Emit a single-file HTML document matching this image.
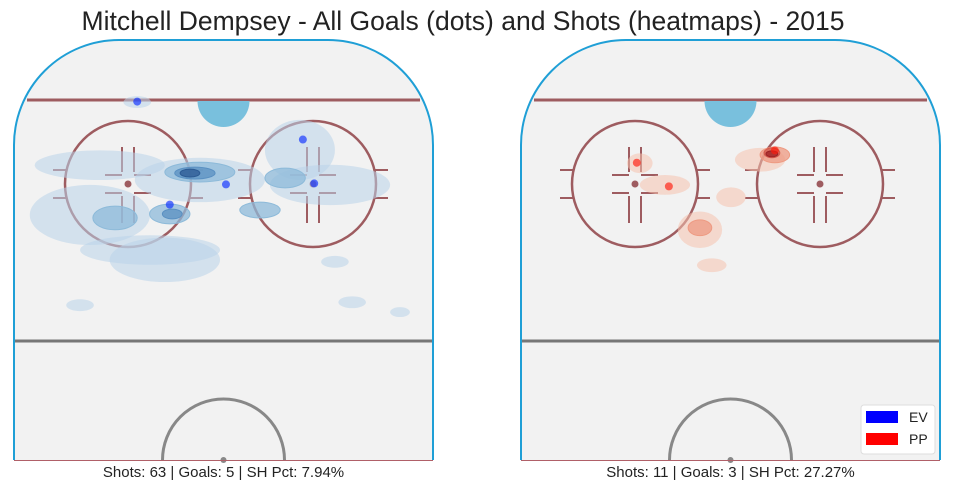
<!DOCTYPE html>
<html><head><meta charset="utf-8">
<style>
body{margin:0;background:#fff;}
svg{display:block;font-family:"Liberation Sans",Arial,sans-serif;}
</style></head>
<body>
<svg id="chart" width="953" height="493" viewBox="0 0 953 493">
<text x="463" y="30" text-anchor="middle" font-size="26.5" fill="#222">Mitchell Dempsey - All Goals (dots) and Shots (heatmaps) - 2015</text>
<g id="panels"></g>
</svg>
<script>
// data (feet: x across ice, y from center ice toward goal)
const evGoalsX=[-17.5,16.1,0.5,18.4,-10.9];
const evGoalsY=[72.7,65.0,55.9,56.1,51.8];
const ppGoalsX=[-19.0,-12.5,9.0];
const ppGoalsY=[60.3,55.5,62.8];
// heat contours: cx, cy, rx, ry, level
const evBlobX=[-4.8,-25.1,-27.1,15.5,21.6,-14.9,-11.9,22.6,26.1,-29.1,35.8,-17.5,-4.8,-10.9,7.4,12.5,-22.0,-5.8,-10.4,-6.8];
const evBlobY=[56.8,59.8,49.7,62.9,55.8,42.6,40.6,40.2,32.0,31.4,30.0,72.6,58.4,49.9,50.7,57.2,49.1,58.2,49.9,58.2];
const evBlobRX=[13.2,13.2,12.2,7.1,12.2,14.2,11.2,2.8,2.8,2.8,2.0,2.8,7.1,4.1,4.1,4.1,4.5,4.1,2.0,2.0];
const evBlobRY=[4.5,3.0,6.1,6.1,4.1,3.0,4.5,1.2,1.2,1.2,1.0,1.2,2.0,2.0,1.6,2.0,2.4,1.2,1.0,0.8];
const evBlobLevel=[1,1,1,1,1,1,1,1,1,1,1,1,2,2,2,2,2,3,3,4];
const ppBlobX=[6.0,9.0,8.4,8.4,-18.4,-13.3,0.1,-6.2,-6.2,-3.8];
const ppBlobY=[60.9,61.9,62.3,62.1,60.2,55.8,53.3,46.7,47.1,39.5];
const ppBlobRX=[5.1,3.0,1.6,1.2,2.6,5.1,3.0,4.5,2.4,3.0];
const ppBlobRY=[2.4,1.6,1.0,0.6,2.0,2.0,2.0,3.7,1.6,1.4];
const ppBlobLevel=[1,2,3,4,1,1,1,1,2,1];
const summaries=["Shots: 63 | Goals: 5 | SH Pct: 7.94%","Shots: 11 | Goals: 3 | SH Pct: 27.27%"];

const NS="http://www.w3.org/2000/svg";
const S=4.93;
function mk(tag,attrs,parent){const e=document.createElementNS(NS,tag);for(const k in attrs)e.setAttribute(k,attrs[k]);parent.appendChild(e);return e;}
const panelsG=document.getElementById('panels');
const blueFills=["#b9d3ea","#8dbad9","#5a90c2","#2c5a93"];
const redFills=["#f6c2ae","#ee9a82","#d35a4c","#9c2326"];

function drawPanel(x0,name,bx,by,brx,bry,bl,fills,gx,gy,dotCol,summary){
  const g=mk('g',{},panelsG);
  
  
  const cx0=x0+209.5;
  const sx=v=>cx0+v*S, sy=v=>460-v*S;
  const L=x0, R=x0+419, T=40, B=460, r=105;
  const rink=mk('path',{d:`M${L},${B} L${L},${T+r} A${r},${r} 0 0 1 ${L+r},${T} L${R-r},${T} A${r},${r} 0 0 1 ${R},${T+r} L${R},${B} Z`,fill:'#f2f2f2',stroke:'none'},g);
  
  
  const lc='#9e5c60';
  const goal=mk('line',{x1:L+13,y1:100,x2:R-13,y2:100,stroke:lc,'stroke-width':3},g);
  
  
  const crease=mk('path',{d:`M${cx0-26},101 A26,26 0 0 0 ${cx0+26},101 Z`,fill:'#79c0dd'},g);
  
  
  [cx0-95.5,cx0+89.5].forEach((fc,i)=>{
    const fg=mk('g',{stroke:lc,'stroke-width':2.5,fill:'none'},g);
    
    
    mk('circle',{cx:fc,cy:184,r:63},fg);
    const d=`M${fc-6},147 V172 M${fc+6},147 V172 M${fc-6},196 V223 M${fc+6},196 V223 M${fc-23},175 H${fc-6} M${fc+6},175 H${fc+23} M${fc-23},193 H${fc-6} M${fc+6},193 H${fc+23} M${fc-75},170 H${fc-61} M${fc-75},198 H${fc-61} M${fc+61},170 H${fc+75} M${fc+61},198 H${fc+75}`;
    mk('path',{d,'stroke-width':2},fg);
    mk('circle',{cx:fc,cy:184,r:3.5,fill:lc,stroke:'none'},fg);
  });
  const blue=mk('line',{x1:L,y1:341,x2:R,y2:341,stroke:'#777','stroke-width':3},g);
  
  
  const cc=mk('path',{d:`M${cx0-61},460 A61,61 0 0 1 ${cx0+61},460`,fill:'none',stroke:'#888','stroke-width':3},g);
  
  
  mk('circle',{cx:cx0,cy:460,r:3,fill:'#888'},g);
  const hg=mk('g',{},g);
  
  
  for(let i=0;i<bx.length;i++){
    const e=mk('ellipse',{cx:sx(bx[i]),cy:sy(by[i]),rx:brx[i]*S,ry:bry[i]*S,fill:fills[bl[i]-1],'fill-opacity':bl[i]==1?0.55:0.75,stroke:bl[i]>1?fills[bl[i]-1]:'none'},hg);
    
    
  }
  for(let i=0;i<gx.length;i++){
    const c=mk('circle',{cx:sx(gx[i]),cy:sy(gy[i]),r:4,fill:dotCol,'fill-opacity':0.65},g);
    
    
  }
  const board=mk('path',{d:`M${L},${B} L${L},${T+r} A${r},${r} 0 0 1 ${L+r},${T} L${R-r},${T} A${r},${r} 0 0 1 ${R},${T+r} L${R},${B}`,fill:'none',stroke:'#1f9fd6','stroke-width':2},g);
  
  
  mk('line',{x1:L,y1:460.5,x2:R,y2:460.5,stroke:'#b06068','stroke-width':1},g);
  const t=mk('text',{x:cx0,y:477,'text-anchor':'middle','font-size':15,fill:'#222'},g);
  t.textContent=summary;
  
  
}
drawPanel(14,'ev-rink-panel',evBlobX,evBlobY,evBlobRX,evBlobRY,evBlobLevel,blueFills,evGoalsX,evGoalsY,'#0a2cff',summaries[0]);
drawPanel(521,'pp-rink-panel',ppBlobX,ppBlobY,ppBlobRX,ppBlobRY,ppBlobLevel,redFills,ppGoalsX,ppGoalsY,'#ff1a0a',summaries[1]);

const lg=mk('g',{},document.getElementById('chart'));


mk('rect',{x:861,y:405,width:74,height:49,rx:3,fill:'#fff',stroke:'#ddd'},lg);
const e1=mk('rect',{x:866,y:411,width:32,height:12,fill:'#0000ff'},lg);


const e2=mk('rect',{x:866,y:433,width:32,height:12,fill:'#ff0000'},lg);


const t1=mk('text',{x:909,y:422,'font-size':14,fill:'#222'},lg);t1.textContent='EV';


const t2=mk('text',{x:909,y:444,'font-size':14,fill:'#222'},lg);t2.textContent='PP';


</script>
</body></html>
